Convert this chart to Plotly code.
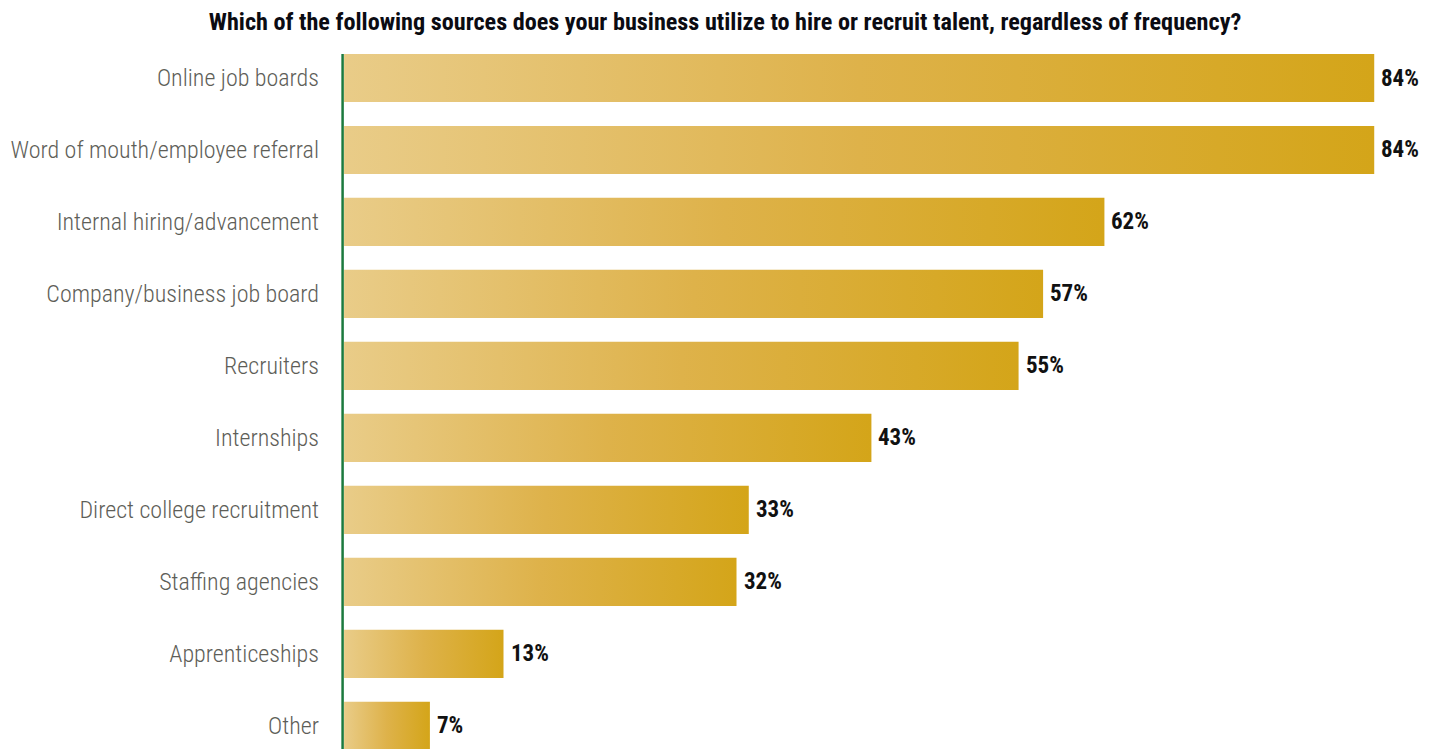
import plotly.graph_objects as go

# Survey results: share of businesses using each recruiting source
categories = [
    "Online job boards",
    "Word of mouth/employee referral",
    "Internal hiring/advancement",
    "Company/business job board",
    "Recruiters",
    "Internships",
    "Direct college recruitment",
    "Staffing agencies",
    "Apprenticeships",
    "Other",
]
values = [84, 84, 62, 57, 55, 43, 33, 32, 13, 7]
value_labels = [f"{v}%" for v in values]

title_text = ("Which of the following sources does your business utilize to hire "
              "or recruit talent, regardless of frequency?")

NARROW = "Roboto Condensed, Roboto, sans-serif"
GOLD_SCALE = [[0.0, "#E9CC88"], [0.5, "#DEB24A"], [1.0, "#D4A519"]]
BAR_HALF = 0.335

fig = go.Figure()

# Each bar is a filled rectangle so it can carry its own left-to-right gradient
for i, v in enumerate(values):
    fig.add_trace(go.Scatter(
        x=[0, v, v, 0, 0],
        y=[i - BAR_HALF, i - BAR_HALF, i + BAR_HALF, i + BAR_HALF, i - BAR_HALF],
        mode="lines",
        line=dict(width=0),
        fill="toself",
        fillgradient=dict(type="horizontal", colorscale=GOLD_SCALE),
        hoverinfo="skip",
        showlegend=False,
    ))
    fig.add_annotation(
        x=v, y=i, xref="x", yref="y",
        text=value_labels[i],
        showarrow=False, xanchor="left", yanchor="middle", xshift=5,
        font=dict(family=NARROW, size=23, color="#111111", weight="bold"),
    )

# Green baseline at zero
fig.add_shape(
    type="line", xref="x", yref="y",
    x0=-0.12, x1=-0.12, y0=-BAR_HALF, y1=len(values) + 1,
    line=dict(color="#1C7A3E", width=2.5),
)

fig.update_layout(
    width=1438, height=749,
    margin=dict(l=341, r=0, t=42, b=0, autoexpand=False),
    paper_bgcolor="white", plot_bgcolor="white",
    title=dict(
        text=title_text, x=725 / 1438, xref="container", xanchor="center",
        y=1 - 22 / 749, yref="container", yanchor="middle",
        font=dict(family=NARROW, size=24.2, color="#0B0B12", weight="bold"),
    ),
    xaxis=dict(range=[-0.25, 89.2], visible=False, fixedrange=True),
    yaxis=dict(
        range=[9.32, -0.5], automargin=False,
        tickmode="array", tickvals=list(range(len(categories))), ticktext=categories,
        ticks="", showgrid=False, zeroline=False, showline=False,
        ticklabelstandoff=21,
        tickfont=dict(family=NARROW, size=24, color="#5E5E58", weight=300),
        fixedrange=True,
    ),
)

fig.write_html("out.html")
